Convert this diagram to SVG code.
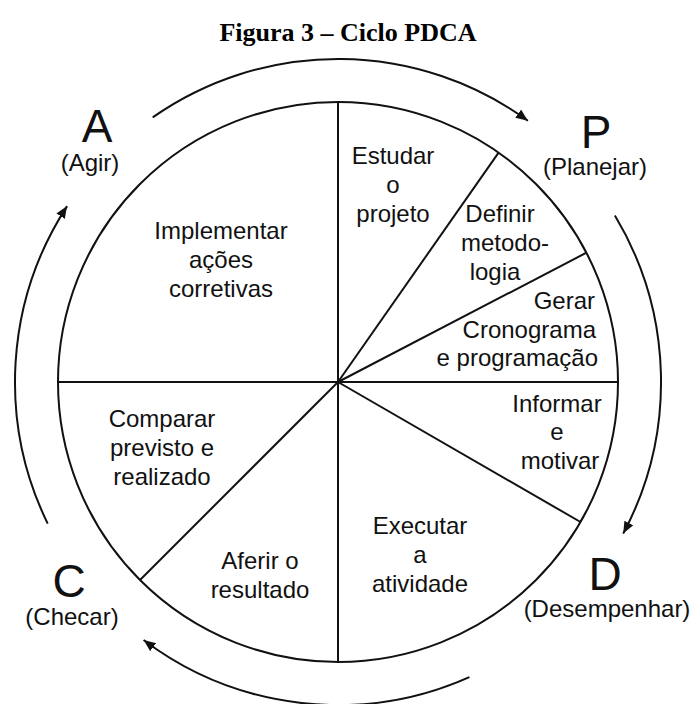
<svg xmlns="http://www.w3.org/2000/svg" width="694" height="704" viewBox="0 0 694 704">
<style>
.t{font-family:"Liberation Sans",Arial,sans-serif;font-size:24px;fill:#111;text-anchor:middle}
.big{font-family:"Liberation Sans",Arial,sans-serif;font-size:46px;fill:#111;text-anchor:middle}
.title{font-family:"Liberation Serif","Times New Roman",serif;font-size:26px;font-weight:bold;fill:#000;text-anchor:middle}
.ln{stroke:#111;stroke-width:2;fill:none}
</style>
<defs>
<marker id="ah" markerUnits="userSpaceOnUse" markerWidth="14" markerHeight="12" refX="12" refY="5" orient="auto">
<path d="M0,0 L12,5 L0,10 z" fill="#111"/>
</marker>
</defs>
<rect width="694" height="704" fill="#fff"/>
<text class="title" x="348" y="41">Figura 3 – Ciclo PDCA</text>
<g id="connectors">
<path class="ln" d="M152.7,117.4 A323,323 0 0 1 527.9,120.7" marker-end="url(#ah)"/>
<path class="ln" d="M614.9,215.6 A323,323 0 0 1 623.2,533.6" marker-end="url(#ah)"/>
<path class="ln" d="M469.4,677.1 A323,323 0 0 1 143.6,640" marker-end="url(#ah)"/>
<path class="ln" d="M47.7,523.6 A323,323 0 0 1 67.1,206.1" marker-end="url(#ah)"/>
</g>
<g id="wheel">
<circle class="ln" cx="338" cy="382" r="280"/>
<line class="ln" x1="338" y1="382" x2="338" y2="102"/>
<line class="ln" x1="338" y1="382" x2="498.6" y2="152.6"/>
<line class="ln" x1="338" y1="382" x2="586.4" y2="252.7"/>
<line class="ln" x1="58" y1="382" x2="618" y2="382"/>
<line class="ln" x1="338" y1="382" x2="580.5" y2="522"/>
<line class="ln" x1="338" y1="382" x2="338" y2="662"/>
<line class="ln" x1="338" y1="382" x2="140" y2="580"/>
</g>
<g id="A"><text class="big" x="97" y="142">A</text><text class="t" x="90" y="171">(Agir)</text></g>
<g id="P"><text class="big" x="596" y="148">P</text><text class="t" x="595" y="175">(Planejar)</text></g>
<g id="D"><text class="big" x="605" y="590">D</text><text class="t" x="607" y="617">(Desempenhar)</text></g>
<g id="C"><text class="big" x="69" y="597">C</text><text class="t" x="72" y="625">(Checar)</text></g>
<g id="s1"><text class="t" x="393" y="164">Estudar</text><text class="t" x="393" y="193">o</text><text class="t" x="393" y="222">projeto</text></g>
<g id="s2"><text class="t" x="500" y="222">Definir</text><text class="t" x="505" y="251">metodo-</text><text class="t" x="495" y="280">logia</text></g>
<g id="s3"><text class="t" x="595" y="309" style="text-anchor:end">Gerar</text><text class="t" x="596" y="338" style="text-anchor:end">Cronograma</text><text class="t" x="598" y="366" style="text-anchor:end">e programação</text></g>
<g id="s4"><text class="t" x="557" y="412">Informar</text><text class="t" x="557" y="440">e</text><text class="t" x="560" y="469">motivar</text></g>
<g id="s5"><text class="t" x="420" y="534">Executar</text><text class="t" x="420" y="563">a</text><text class="t" x="420" y="592">atividade</text></g>
<g id="s6"><text class="t" x="260" y="569">Aferir o</text><text class="t" x="260" y="598">resultado</text></g>
<g id="s7"><text class="t" x="162" y="427">Comparar</text><text class="t" x="162" y="456">previsto e</text><text class="t" x="162" y="485">realizado</text></g>
<g id="s8"><text class="t" x="221" y="239">Implementar</text><text class="t" x="221" y="268">ações</text><text class="t" x="221" y="297">corretivas</text></g>
</svg>
